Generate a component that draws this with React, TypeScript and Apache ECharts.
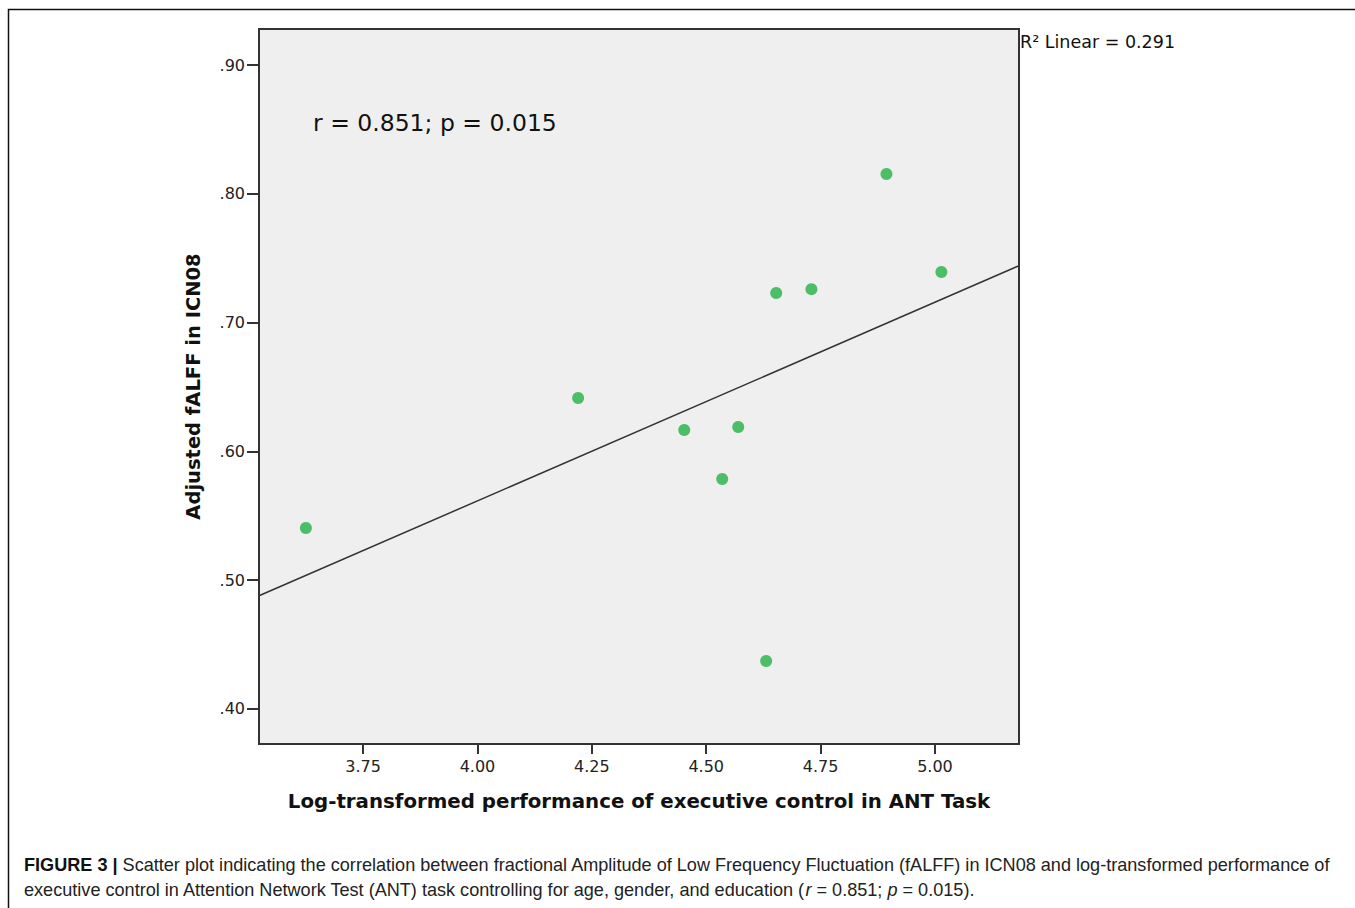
import React, { useEffect, useRef } from "react";
import * as echarts from "echarts";

const xValues = [3.625, 4.22, 4.452, 4.57, 4.535, 4.631, 4.653, 4.73, 4.894, 5.014];
const yValues = [0.5405, 0.6415, 0.6166, 0.6189, 0.5786, 0.4373, 0.723, 0.726, 0.8154, 0.7393];
const xTicks = [3.75, 4.0, 4.25, 4.5, 4.75, 5.0];
const yTicks = [0.4, 0.5, 0.6, 0.7, 0.8, 0.9];
const xRange = [3.5225, 5.1837];
const yRange = [0.3728, 0.928];

const xTitle = "Log-transformed performance of executive control in ANT Task";
const yTitle = "Adjusted fALFF in ICN08";
const statText = "r = 0.851; p = 0.015";
const r2Text = "R² Linear = 0.291";

function fitLine(xs: number[], ys: number[], lo: number, hi: number): number[][] {
  const n = xs.length;
  const mx = xs.reduce((a, b) => a + b, 0) / n;
  const my = ys.reduce((a, b) => a + b, 0) / n;
  let sxy = 0;
  let sxx = 0;
  for (let i = 0; i < n; i++) {
    sxy += (xs[i] - mx) * (ys[i] - my);
    sxx += (xs[i] - mx) * (xs[i] - mx);
  }
  const b = sxy / sxx;
  const a = my - b * mx;
  return [
    [lo, a + b * lo],
    [hi, a + b * hi],
  ];
}

export default function App() {
  const ref = useRef<HTMLDivElement>(null);
  useEffect(() => {
    if (!ref.current) return;
    const chart = echarts.init(ref.current, null, { renderer: "svg" });
    const points = xValues.map((x, i) => [x, yValues[i]]);
    const line = fitLine(xValues, yValues, xRange[0], xRange[1]);
    const axisColor = "#333333";
    const labelFont = "'DejaVu Sans', Verdana, sans-serif";
    const capFont = "'Liberation Sans', Arial, sans-serif";
    chart.setOption({
      animation: false,
      backgroundColor: "#ffffff",
      grid: {
        left: 259,
        top: 29,
        right: 336,
        bottom: 164,
        show: true,
        backgroundColor: "#efefef",
        borderColor: axisColor,
        borderWidth: 2,
      },
      xAxis: {
        type: "value",
        min: xRange[0],
        max: xRange[1],
        name: xTitle,
        nameLocation: "middle",
        nameGap: 47,
        nameTextStyle: { fontFamily: labelFont, fontWeight: "bold", fontSize: 19.8, color: "#111" },
        axisLine: { show: true, lineStyle: { color: axisColor, width: 2 } },
        axisTick: { show: true, length: 10, customValues: xTicks, lineStyle: { color: axisColor, width: 2 } },
        axisLabel: {
          customValues: xTicks,
          formatter: (v: number) => v.toFixed(2),
          fontFamily: labelFont,
          fontSize: 16,
          color: "#222",
          margin: 14,
        },
        splitLine: { show: false },
      },
      yAxis: {
        type: "value",
        min: yRange[0],
        max: yRange[1],
        name: yTitle,
        nameLocation: "middle",
        nameGap: 56,
        nameTextStyle: { fontFamily: labelFont, fontWeight: "bold", fontSize: 19.5, color: "#111" },
        axisLine: { show: true, lineStyle: { color: axisColor, width: 2 } },
        axisTick: { show: true, length: 12, customValues: yTicks, lineStyle: { color: axisColor, width: 2 } },
        axisLabel: {
          customValues: yTicks,
          formatter: (v: number) => v.toFixed(2).replace(/^0/, ""),
          fontFamily: labelFont,
          fontSize: 16,
          color: "#222",
          margin: 14,
        },
        splitLine: { show: false },
      },
      series: [
        {
          type: "line",
          data: line,
          symbol: "none",
          lineStyle: { color: "#333", width: 1.5 },
          silent: true,
          z: 2,
        },
        {
          type: "scatter",
          data: points,
          symbolSize: 12,
          itemStyle: { color: "#22b143" },
          z: 3,
        },
      ],
      graphic: [
        {
          type: "rect",
          shape: { x: 8.5, y: 9.5, width: 1400, height: 1000 },
          style: { fill: "none", stroke: "#111", lineWidth: 1.5 },
          silent: true,
        },
        {
          type: "text",
          left: 313,
          top: 111,
          style: { text: statText, font: `23.5px ${labelFont}`, fill: "#111" },
        },
        {
          type: "text",
          left: 1020,
          top: 33,
          style: { text: r2Text, font: `17.5px ${labelFont}`, fill: "#111" },
        },
        {
          type: "text",
          left: 24,
          top: 852,
          style: {
            text:
              "{b|FIGURE 3 |} Scatter plot indicating the correlation between fractional Amplitude of Low Frequency Fluctuation (fALFF) in ICN08 and log-transformed performance of\nexecutive control in Attention Network Test (ANT) task controlling for age, gender, and education ({i|r} = 0.851; {i|p} = 0.015).",
            font: `18.1px ${capFont}`,
            fill: "#222",
            lineHeight: 25,
            rich: {
              b: { fontWeight: "bold", fontFamily: capFont, fontSize: 18.1, fill: "#111", lineHeight: 25 },
              i: { fontStyle: "italic", fontFamily: capFont, fontSize: 18.1, fill: "#222", lineHeight: 25 },
            },
          },
        },
      ],
    });
    return () => chart.dispose();
  }, []);
  return (
    <div style={{ position: "fixed", left: 0, top: 0, width: 1355, height: 908, background: "#fff" }}>
      <div ref={ref} style={{ width: 1355, height: 908 }} />
    </div>
  );
}
